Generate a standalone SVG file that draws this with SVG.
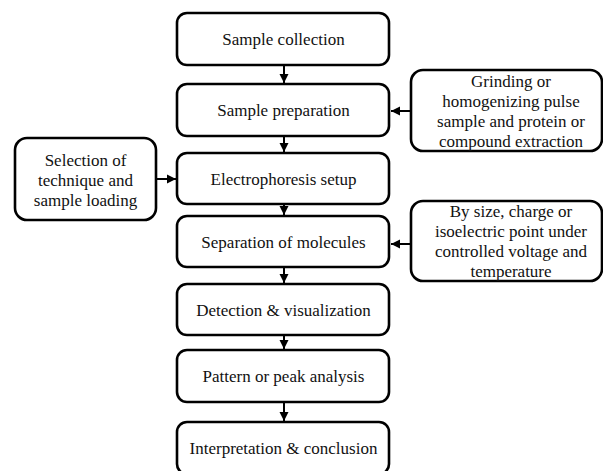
<svg xmlns="http://www.w3.org/2000/svg" width="603" height="471" viewBox="0 0 603 471">
<defs>
<marker id="ah" markerWidth="10" markerHeight="10" refX="9" refY="5" orient="auto" markerUnits="userSpaceOnUse">
<path d="M0,0.5 L9,5 L0,9.5 Z" fill="#000"/>
</marker>
</defs>
<rect width="603" height="471" fill="#fff"/>
<g id="connectors" stroke="#000" stroke-width="2" fill="none">
<line x1="284" y1="65" x2="284" y2="83" marker-end="url(#ah)"/>
<line x1="284" y1="136" x2="284" y2="152" marker-end="url(#ah)"/>
<line x1="284" y1="204" x2="284" y2="215" marker-end="url(#ah)"/>
<line x1="284" y1="267" x2="284" y2="283" marker-end="url(#ah)"/>
<line x1="284" y1="335" x2="284" y2="349" marker-end="url(#ah)"/>
<line x1="284" y1="402" x2="284" y2="421" marker-end="url(#ah)"/>
<line x1="156" y1="179" x2="176" y2="179" marker-end="url(#ah)"/>
<line x1="411" y1="111" x2="391" y2="111" marker-end="url(#ah)"/>
<line x1="411" y1="244" x2="391" y2="244" marker-end="url(#ah)"/>
</g>
<g fill="#fff" stroke="#000" stroke-width="2.6">
<rect id="n1" x="177" y="13" width="212" height="52" rx="10"/>
<rect id="n2" x="177" y="84" width="212" height="52" rx="10"/>
<rect id="n3" x="177" y="153" width="212" height="51" rx="10"/>
<rect id="n4" x="177" y="216" width="212" height="51" rx="10"/>
<rect id="n5" x="177" y="284" width="212" height="51" rx="10"/>
<rect id="n6" x="177" y="350" width="212" height="52" rx="10"/>
<rect id="n7" x="177" y="422" width="212" height="52" rx="10"/>
<rect id="left" x="15" y="138" width="141" height="82" rx="12"/>
<rect id="right1" x="411" y="70" width="191" height="81" rx="12"/>
<rect id="right2" x="411" y="201" width="191" height="80" rx="12"/>
</g>
<text x="283.5" y="45" style="font-family:'Liberation Serif';font-size:17px;fill:#111;text-anchor:middle">Sample collection</text>
<text x="283.5" y="116" style="font-family:'Liberation Serif';font-size:17px;fill:#111;text-anchor:middle">Sample preparation</text>
<text x="283.5" y="184.5" style="font-family:'Liberation Serif';font-size:17px;fill:#111;text-anchor:middle">Electrophoresis setup</text>
<text x="283.5" y="247.5" style="font-family:'Liberation Serif';font-size:17px;fill:#111;text-anchor:middle">Separation of molecules</text>
<text x="283.5" y="315.5" style="font-family:'Liberation Serif';font-size:17px;fill:#111;text-anchor:middle">Detection &amp; visualization</text>
<text x="283.5" y="382" style="font-family:'Liberation Serif';font-size:17px;fill:#111;text-anchor:middle">Pattern or peak analysis</text>
<text x="283.5" y="454" style="font-family:'Liberation Serif';font-size:17px;fill:#111;text-anchor:middle">Interpretation &amp; conclusion</text>
<text x="85.5" y="166" style="font-family:'Liberation Serif';font-size:17px;fill:#111;text-anchor:middle">Selection of</text>
<text x="85.5" y="186" style="font-family:'Liberation Serif';font-size:17px;fill:#111;text-anchor:middle">technique and</text>
<text x="85.5" y="206" style="font-family:'Liberation Serif';font-size:17px;fill:#111;text-anchor:middle">sample loading</text>
<text x="511" y="87" style="font-family:'Liberation Serif';font-size:17px;fill:#111;text-anchor:middle">Grinding or</text>
<text x="511" y="107" style="font-family:'Liberation Serif';font-size:17px;fill:#111;text-anchor:middle">homogenizing pulse</text>
<text x="511" y="127" style="font-family:'Liberation Serif';font-size:17px;fill:#111;text-anchor:middle">sample and protein or</text>
<text x="511" y="147" style="font-family:'Liberation Serif';font-size:17px;fill:#111;text-anchor:middle">compound extraction</text>
<text x="511" y="217" style="font-family:'Liberation Serif';font-size:17px;fill:#111;text-anchor:middle">By size, charge or</text>
<text x="511" y="237" style="font-family:'Liberation Serif';font-size:17px;fill:#111;text-anchor:middle">isoelectric point under</text>
<text x="511" y="257" style="font-family:'Liberation Serif';font-size:17px;fill:#111;text-anchor:middle">controlled voltage and</text>
<text x="511" y="277" style="font-family:'Liberation Serif';font-size:17px;fill:#111;text-anchor:middle">temperature</text>
</svg>
